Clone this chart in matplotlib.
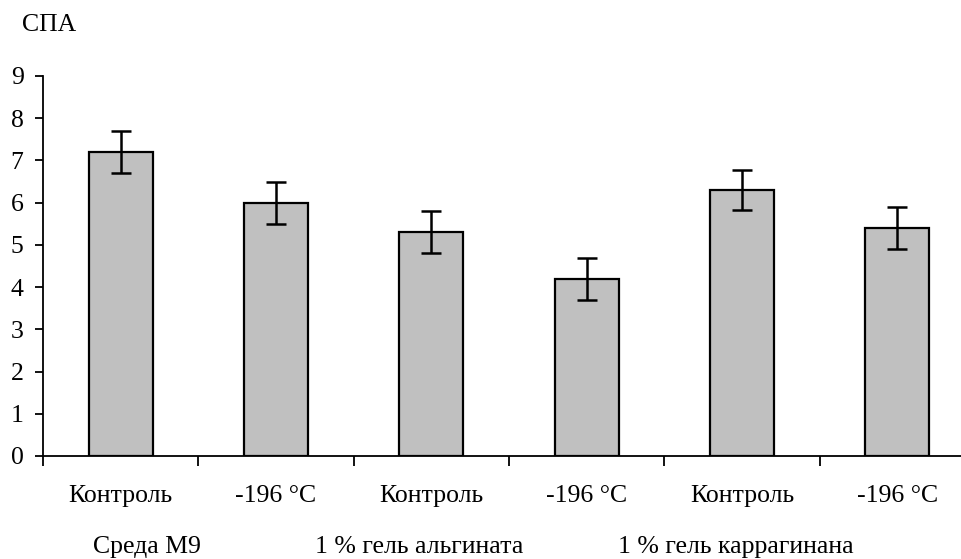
import matplotlib
matplotlib.use("Agg")
import matplotlib.pyplot as plt
import numpy as np

categories = ["Контроль", "-196 °C", "Контроль", "-196 °C", "Контроль", "-196 °C"]
values = [7.2, 6.0, 5.3, 4.2, 6.3, 5.4]
errors = [0.5, 0.5, 0.5, 0.5, 0.48, 0.5]
groups = ["Среда М9", "1 % гель альгината", "1 % гель каррагинана"]
group_pos = [0.17, 1.92, 3.96]
yticks = list(range(0, 10))

plt.rcParams['font.family'] = ['Liberation Serif', 'DejaVu Serif']

W, H = 962, 559
fig = plt.figure(figsize=(W / 100, H / 100), dpi=100)
ax = fig.add_axes([43 / W, 103 / H, 932 / W, 380 / H])

x = np.arange(len(values))
ax.bar(x, values, width=0.41, color='#c0c0c0', edgecolor='black', linewidth=1.6, zorder=2)
ax.errorbar(x, values, yerr=errors, fmt='none', ecolor='black', elinewidth=1.8,
            capsize=7, capthick=1.8, zorder=3)

ax.set_xlim(-0.5, len(values) - 0.5)
ax.set_ylim(0, 9)
ax.set_yticks(yticks)
ax.set_yticklabels([str(t) for t in yticks], fontsize=18.5)

ax.set_xticks(np.arange(-0.5, len(values), 1.0))
ax.set_xticklabels([])
ax.set_xticks(x, minor=True)
ax.set_xticklabels(categories, minor=True, fontsize=18.5)
ax.tick_params(axis='x', which='major', length=7, width=1.3, direction='out')
ax.tick_params(axis='x', which='minor', length=0, pad=21)
ax.tick_params(axis='y', length=6, width=1.3, direction='out', pad=8)

for s in ['top', 'right']:
    ax.spines[s].set_visible(False)
for s in ['left', 'bottom']:
    ax.spines[s].set_linewidth(1.3)

trans = matplotlib.transforms.blended_transform_factory(ax.transData, fig.transFigure)
for g, p in zip(groups, group_pos):
    fig.text(p, 1 - 547 / H, g, transform=trans, ha='center', va='center', fontsize=18.5)

fig.text(22 / W, 1 - 25 / H, "СПА", ha='left', va='center', fontsize=18.5)

fig.savefig("out.png", dpi=100)
